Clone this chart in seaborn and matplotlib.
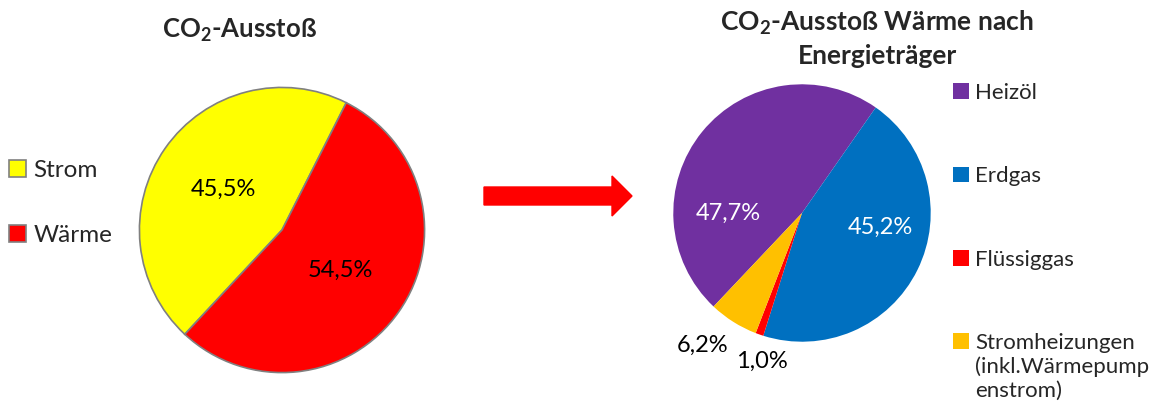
import matplotlib
matplotlib.use("Agg")
import matplotlib.pyplot as plt
from matplotlib.patches import FancyArrow
import seaborn as sns

# CO2 total split
total_labels = ["Strom", "Wärme"]
total_values = [45.5, 54.5]
total_colors = ["#FFFF00", "#FF0000"]

# heat split by energy carrier
heat_labels = ["Heizöl", "Erdgas", "Flüssiggas", "Stromheizungen"]
heat_label_extra = "(inkl.Wärmepump\nenstrom)"
heat_values = [47.7, 45.2, 1.0, 6.2]
heat_colors = ["#7030A0", "#0070C0", "#FF0000", "#FFC000"]
heat_text_colors = ["white", "white", "black", "black"]


def pct(p):
    return f"{p:.1f}%".replace(".", ",")


sns.set_theme(style="white")
plt.rcParams["font.family"] = ["Lato", "DejaVu Sans"]
plt.rcParams["mathtext.fontset"] = "custom"
plt.rcParams["mathtext.rm"] = "Lato"
plt.rcParams["mathtext.bf"] = "Lato:bold"

W, H = 1155, 411
fig = plt.figure(figsize=(W / 100, H / 100), dpi=100)
fig.patch.set_facecolor("white")


def px_axes(left, top, size):
    return fig.add_axes([left / W, (H - top - size) / H, size / W, size / H])


# left pie
ax1 = px_axes(138, 86, 288)
w1, _, t1 = ax1.pie(total_values, colors=sns.color_palette(total_colors),
                    startangle=-133, counterclock=False, autopct=pct,
                    pctdistance=0.5, radius=1,
                    wedgeprops=dict(edgecolor="#808080", linewidth=1.2),
                    textprops=dict(fontsize=17, color="black"))
ax1.set_xlim(-1.01, 1.01)
ax1.set_ylim(-1.01, 1.01)
ax1.set_aspect("equal")
ax1.axis("off")

fig.text(240 / W, 1 - 30 / H, r"CO$_\mathbf{2}$-Ausstoß", ha="center", va="center",
         fontsize=18.5, fontweight="bold")

fig.legend(w1, total_labels, loc="center left",
           bbox_to_anchor=(9 / W, 1 - 203 / H), frameon=False,
           fontsize=17.5, borderpad=0, borderaxespad=0, handlelength=0.7,
           handleheight=0.7, handletextpad=0.3, labelspacing=1.8)

# right pie
ax2 = px_axes(672, 83, 260)
w2, _, t2 = ax2.pie(heat_values, colors=sns.color_palette(heat_colors),
                    startangle=-133.4, counterclock=False, autopct=pct,
                    radius=1, wedgeprops=dict(linewidth=0),
                    textprops=dict(fontsize=17))
label_pos = [(-0.57, 0.0), (0.61, -0.115), (-0.31, -1.15), (-0.77, -1.03)]
for t, pos, c in zip(t2, label_pos, heat_text_colors):
    t.set_position(pos)
    t.set_color(c)
    t.set_clip_on(False)
ax2.set_xlim(-1.01, 1.01)
ax2.set_ylim(-1.01, 1.01)
ax2.set_aspect("equal")
ax2.axis("off")

fig.text(877 / W, 1 - 38 / H, "CO$_\\mathbf{2}$-Ausstoß Wärme nach\nEnergieträger",
         ha="center", va="center", fontsize=19, fontweight="bold", linespacing=1.35)

leg2 = fig.legend(w2, heat_labels, loc="upper left",
                  bbox_to_anchor=(953 / W, 1 - 83 / H), frameon=False,
                  fontsize=16, borderpad=0, borderaxespad=0, handlelength=0.7,
                  handleheight=0.7, handletextpad=0.3, labelspacing=2.85)

# continuation of the last legend label, under its first line
fig.canvas.draw()
bb = leg2.get_texts()[-1].get_window_extent()
fig.text(bb.x0 / W, (bb.y0 - 3) / H, heat_label_extra, ha="left", va="top",
         fontsize=16, linespacing=1.25)

# arrow between the charts
fig.patches.append(FancyArrow(484 / W, 1 - 196 / H, 148 / W, 0,
                              width=18 / H, head_width=40 / H,
                              head_length=20 / W, length_includes_head=True,
                              color="#FF0000", transform=fig.transFigure,
                              figure=fig))

fig.savefig("out.png", dpi=100, facecolor="white")
